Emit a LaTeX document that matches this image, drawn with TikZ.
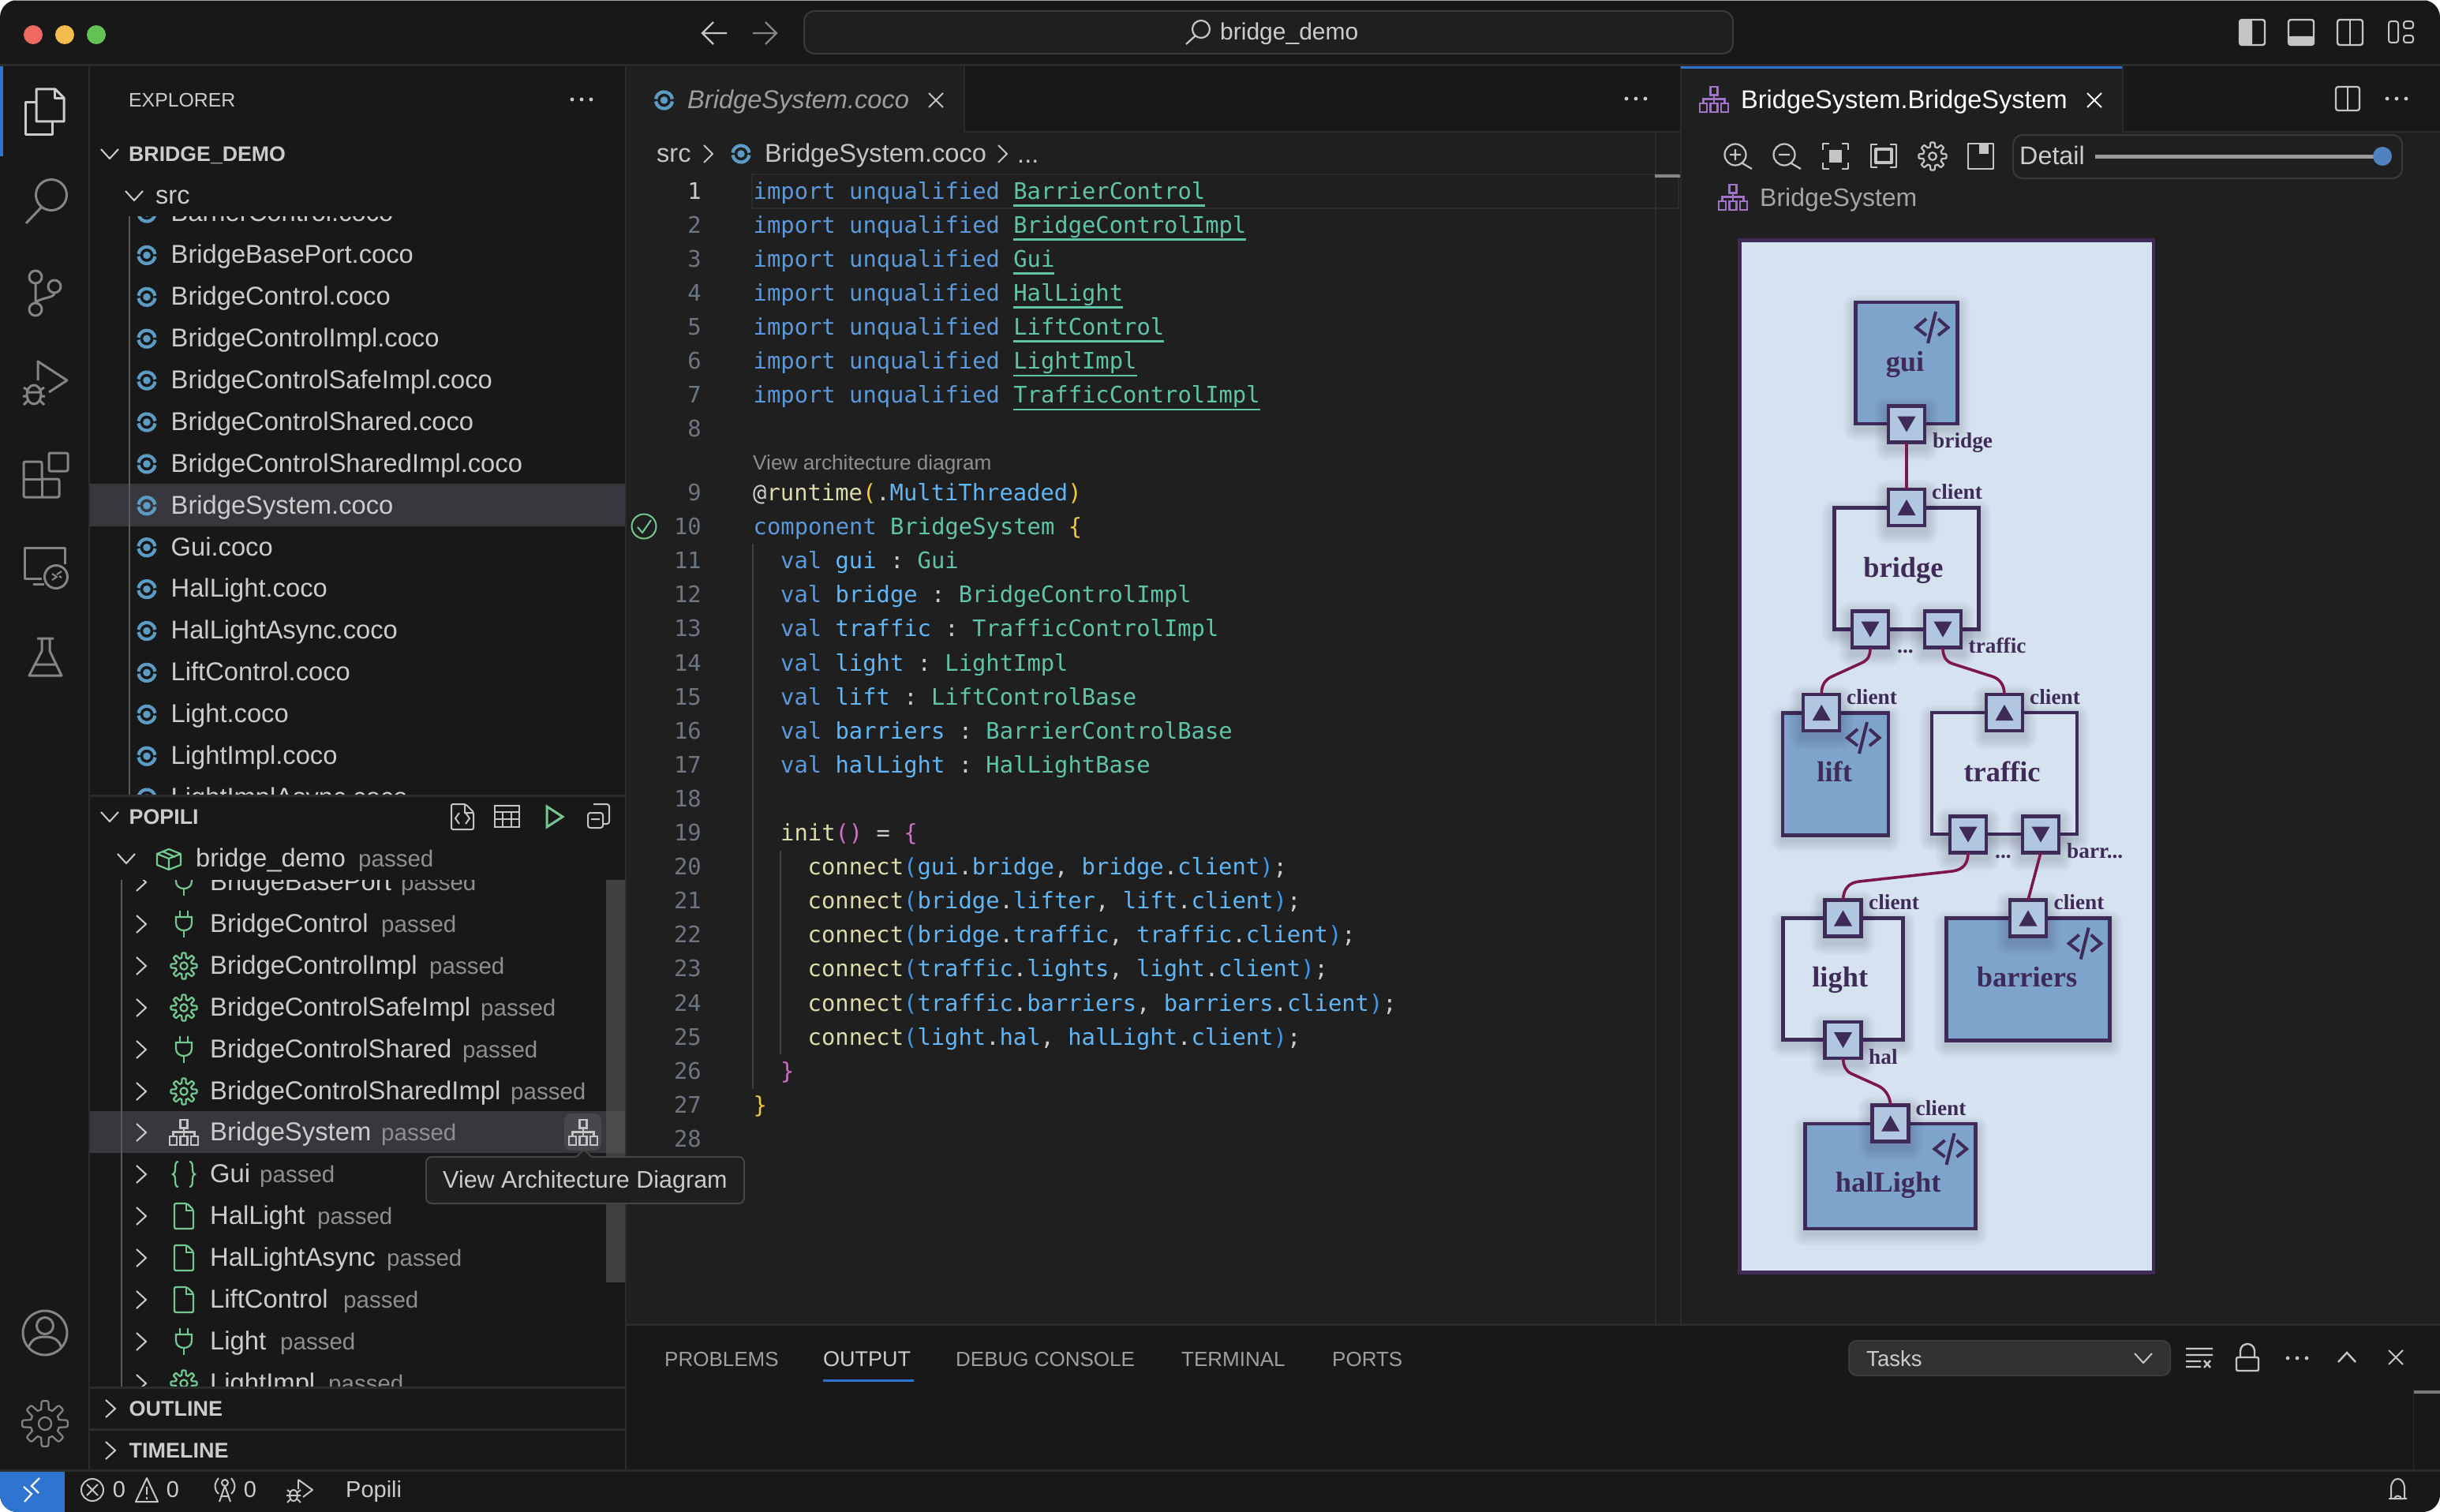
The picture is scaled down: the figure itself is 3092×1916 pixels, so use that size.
\documentclass[tikz,border=0pt]{standalone}
\usepackage{fontspec}
\setmainfont{Liberation Sans}
\newfontfamily\mono{DejaVu Sans Mono}
\newfontfamily\ser{Liberation Serif}
\usetikzlibrary{calc}
\definecolor{win}{HTML}{181818}
\definecolor{ed}{HTML}{1F1F1F}
\definecolor{bord}{HTML}{2B2B2B}
\definecolor{sel}{HTML}{37373D}
\definecolor{txt}{HTML}{CCCCCC}
\definecolor{dim}{HTML}{8F8F8F}
\definecolor{ico}{HTML}{858585}
\definecolor{lite}{HTML}{C5C5C5}
\definecolor{grn}{HTML}{73C991}
\definecolor{coco}{HTML}{5C9BC4}
\definecolor{purp}{HTML}{A074C4}
\definecolor{acc}{HTML}{2F74D0}
\definecolor{kw}{HTML}{5C99DA}
\definecolor{ty}{HTML}{5FC4A8}
\definecolor{idn}{HTML}{62B6F5}
\definecolor{fnc}{HTML}{DCDCAA}
\definecolor{gold}{HTML}{F5C842}
\definecolor{pink}{HTML}{CF6FC8}
\definecolor{pbl}{HTML}{3F97E8}
\definecolor{ln}{HTML}{6E7681}
\definecolor{dstroke}{HTML}{3E2B58}
\definecolor{dbg}{HTML}{D6E2EF}
\definecolor{dfill}{HTML}{7FA4CB}
\definecolor{dportc}{HTML}{B1C7E0}
\definecolor{wire}{HTML}{7C1650}
\definecolor{tlr}{HTML}{EE6A5F}
\definecolor{tly}{HTML}{F5BD4F}
\definecolor{tlg}{HTML}{61C454}
\definecolor{scb}{HTML}{404040}
\definecolor{boxb}{HTML}{3A3A3A}
\definecolor{csb}{HTML}{4E4E52}
\definecolor{cact}{HTML}{47474C}
\definecolor{ctip}{HTML}{454545}
\definecolor{ctab}{HTML}{9D9D9D}
\definecolor{cbrd}{HTML}{A5A5A5}
\definecolor{cslid}{HTML}{9A9A9A}
\definecolor{cknob}{HTML}{5082C0}
\definecolor{cguide}{HTML}{404040}
\definecolor{ctree}{HTML}{5A5A5A}
\definecolor{cpan}{HTML}{A0A0A0}
\definecolor{cdd}{HTML}{313131}
\definecolor{cddb}{HTML}{3C3C3C}
\definecolor{csm}{HTML}{7A7A7A}
\definecolor{cshad}{HTML}{1E1A3A}
\newcommand{\sz}[1]{\fontsize{#1}{#1}\selectfont\frenchspacing}
\newcount\tn
\newcommand{\tx}[6][mid west]{\global\advance\tn by 1\relax
  \node[anchor=#1,inner sep=0pt,text=#5,font=\sz{#4}] (t\the\tn) at (#2,{#3+1.5+0.19*#4}) {#6};}
\newcommand{\txb}[6][base west]{\global\advance\tn by 1\relax
  \node[anchor=#1,inner sep=0pt,text=#5,font=\sz{#4}] (t\the\tn) at (#2,{#3+1.5}) {#6};}
\newcommand{\K}[1]{\textcolor{kw}{#1}}
\newcommand{\Y}[1]{\textcolor{ty}{#1}}
\newcommand{\I}[1]{\textcolor{idn}{#1}}
\newcommand{\Fn}[1]{\textcolor{fnc}{#1}}
\newcommand{\Go}[1]{\textcolor{gold}{#1}}
\newcommand{\Pk}[1]{\textcolor{pink}{#1}}
\newcommand{\Bl}[1]{\textcolor{pbl}{#1}}
\newcommand{\Wh}[1]{\textcolor{txt}{#1}}
\newcommand{\Ul}[1]{\setbox0=\hbox{\textcolor{ty}{#1}}\leavevmode\rlap{\textcolor{ty}{\vrule width\wd0 height -7pt depth 9.5pt}}\box0}
\newcommand{\code}[3]{\txb[base west]{#1}{#2+8.5}{28.82}{txt}{\mono #3}}
\newcommand{\lnum}[3][ln]{\txb[base east]{889}{#3+8.5}{28.82}{#1}{\mono #2}}
\newcommand{\cconn}[2]{\code{1023.5}{#1}{\Fn{connect}\Bl{(}#2\Bl{)}\Wh{;}}}
% icons
\newcommand{\chD}[3][txt]{\draw[#1,line width=2pt] (#2-11,#3-6) -- (#2,#3+6) -- (#2+11,#3-6);}
\newcommand{\chR}[3][txt]{\draw[#1,line width=2pt] (#2-6,#3-11) -- (#2+6,#3) -- (#2-6,#3+11);}
\newcommand{\xic}[3][lite]{\draw[#1,line width=2pt] (#2-9,#3-9) -- (#2+9,#3+9) (#2-9,#3+9) -- (#2+9,#3-9);}
\newcommand{\threedots}[3][txt]{\fill[#1] (#2-12,#3) circle (2.4) (#2,#3) circle (2.4) (#2+12,#3) circle (2.4);}
\newcommand{\cocoic}[2]{\begin{scope}[shift={(#1,#2)}]
  \draw[coco,line width=4.2pt] (172:10.6) arc (172:8:10.6);
  \draw[coco,line width=4.2pt] (-8:10.6) arc (-8:-172:10.6);
  \fill[coco] (0,0) circle (4.8);
 \end{scope}}
\newcommand{\plugic}[2]{\begin{scope}[shift={(#1,#2)},color=grn,line width=2.2pt]
  \draw (-5,-17) -- (-5,-9) (5,-17) -- (5,-9) (0,8) -- (0,17);
  \draw (-10,-9) -- (10,-9) -- (10,-1) .. controls (10,5) and (5,8) .. (0,8) .. controls (-5,8) and (-10,5) .. (-10,-1) -- cycle;
 \end{scope}}
\newcommand{\gearic}[4]{\begin{scope}[shift={(#1,#2)},color=#3,line width=2.2pt,scale=#4]
  \draw[line join=round] plot[domain=0:360,samples=121] ({(13.5+3*max(-1,min(1,2.5*cos(8*\x))))*cos(\x)},{(13.5+3*max(-1,min(1,2.5*cos(8*\x))))*sin(\x)}) -- cycle;
  \draw (0,0) circle (4.6);
 \end{scope}}
\newcommand{\fileic}[2]{\begin{scope}[shift={(#1,#2)},color=grn,line width=2.2pt]
  \draw[rounded corners=2pt] (-12,-16) -- (4,-16) -- (12,-8) -- (12,16) -- (-12,16) -- cycle;
  \draw (3,-16) -- (3,-7) -- (12,-7);
 \end{scope}}
\newcommand{\hier}[3]{\begin{scope}[shift={(#1,#2)},color=#3,line width=2.2pt]
  \draw (-4.5,-16) rectangle (4.5,-5.5);
  \draw (0,-5.5) -- (0,5) (-13.5,5) -- (-13.5,-0.5) -- (13.5,-0.5) -- (13.5,5);
  \draw (-18,5) rectangle (-9,16) (-4.5,5) rectangle (4.5,16) (9,5) rectangle (18,16);
 \end{scope}}
% tree row
\newcommand{\row}[3]{\chR[txt]{179}{#1}\tx{266}{#1}{32.8}{txt}{#2}\tx{#3}{#1+1}{29.5}{dim}{passed}}
\newcommand{\file}[2]{\cocoic{186}{#1}\tx{216.5}{#1}{32.7}{txt}{#2}}
% diagram
\tikzset{
 dbox/.style={draw=dstroke,line width=4.5pt,inner sep=0pt,outer sep=0pt},
 dport/.style={draw=dstroke,line width=4.5pt,fill=dportc,minimum size=46pt,inner sep=0pt,outer sep=0pt},
 dwire/.style={draw=wire,line width=3.6pt},
 dname/.style={text=dstroke,anchor=base,inner sep=0pt,font=\ser\bfseries\sz{36.4}},
 dlab/.style={text=dstroke,anchor=base west,inner sep=0pt,font=\ser\bfseries\sz{27.3}},
}
\newcommand{\shadowat}[4]{\foreach \r in {2,4,...,16}{\fill[cshad,opacity=.02,rounded corners=\r pt] ({#1-#3/2-\r},{#2-#4/2-\r+6}) rectangle ({#1+#3/2+\r},{#2+#4/2+\r+6});}}
\newcommand{\dnode}[6]{\shadowat{#2}{#3}{#4}{#5}\node[dbox,fill=#6,minimum width=#4pt,minimum height=#5pt] (#1) at (#2,#3) {};}
\newcommand{\pnode}[3]{\shadowat{#2}{#3}{50}{50}\node[dport] (#1) at (#2,#3) {};}
\newcommand{\triD}[1]{\fill[dstroke] ([shift={(-11.5,-10)}]#1.center) -- ([shift={(11.5,-10)}]#1.center) -- ([shift={(0,10)}]#1.center) -- cycle;}
\newcommand{\triU}[1]{\fill[dstroke] ([shift={(-11.5,10)}]#1.center) -- ([shift={(11.5,10)}]#1.center) -- ([shift={(0,-10)}]#1.center) -- cycle;}
\newcommand{\codeic}[2]{\begin{scope}[shift={(#1,#2)},color=dstroke,line width=4pt]
  \draw (-7,-11) -- (-20,0) -- (-7,10) (8,-11) -- (20.5,0) -- (8,10) (5,-20) -- (-5,20);
 \end{scope}}
\begin{document}
\begin{tikzpicture}[x=1pt,y=-1pt]
\useasboundingbox (0,0) rectangle (3092,1916);
\fill[white] (0,0) rectangle (3092,1916);
\begin{scope}
\clip[rounded corners=22pt] (0,0) rectangle (3092,1916);
\fill[win] (0,0) rectangle (3092,1916);
\fill[gray!70] (0,0) rectangle (3092,1.5);
% ---- main panes
\fill[ed] (793,84) rectangle (3092,1679);
\fill[win] (793,84) rectangle (3092,167);
\fill[ed] (793,84) rectangle (1221,167);
\fill[ed] (2130,84) rectangle (2689,167);
\fill[win] (793,1679) rectangle (3092,1863);
% current line
\draw[bord,line width=2pt] (953,221) rectangle (2127,264);
\fill[bord] (2097,167) rectangle (2099,1679);
\fill[ico] (2097,221) rectangle (2130,225);
% borders
\fill[bord] (0,81) rectangle (3092,84);
\fill[bord] (112,84) rectangle (114,1863);
\fill[bord] (792,84) rectangle (794,1863);
\fill[bord] (1221,84) rectangle (1223,167);
\fill[bord] (2689,84) rectangle (2691,167);
\fill[bord] (1221,166) rectangle (2130,168);
\fill[bord] (2689,166) rectangle (3092,168);
\fill[bord] (2129,84) rectangle (2131,1679);
\fill[bord] (793,1677) rectangle (3092,1680);
\fill[bord] (0,1862) rectangle (3092,1865);
\fill[acc] (2130,84) rectangle (2689,87);
\fill[acc] (0,84) rectangle (4,198);
% ---- title bar
\fill[tlr] (42,44) circle (12);
\fill[tly] (82,44) circle (12);
\fill[tlg] (122,44) circle (12);
\draw[lite,line width=2.2pt] (921,42) -- (890,42) (904,28) -- (890,42) -- (904,56);
\draw[ico,line width=2.2pt] (954,42) -- (984,42) (970,28) -- (984,42) -- (970,56);
\draw[boxb,fill=ed,line width=2pt,rounded corners=13pt] (1019,14) rectangle (2196,68);
\draw[lite,line width=2.2pt] (1522,37) circle (11) (1514,46) -- (1503,56);
\tx{1546}{41}{30}{txt}{bridge\_demo}
\begin{scope}[color=lite,line width=2.4pt]
 \draw[rounded corners=3pt] (2838,25) rectangle (2870,57);
 \fill[rounded corners=3pt] (2838,25) rectangle (2854,57); \fill (2848,25) rectangle (2854,57);
 \draw[rounded corners=3pt] (2900,25) rectangle (2932,57);
 \fill[rounded corners=3pt] (2900,46) rectangle (2932,57); \fill (2900,46) rectangle (2932,50);
 \draw[rounded corners=3pt] (2962,25) rectangle (2994,57); \draw (2978,25) -- (2978,57);
 \draw[rounded corners=3pt,line width=2pt] (3027,27) rectangle (3039,54) (3046,27) rectangle (3058,36) (3046,45) rectangle (3058,54);
\end{scope}
% ---- activity bar
\begin{scope}[color=txt,line width=3pt,line join=round]
 \draw (46,113) -- (70,113) -- (81,124) -- (81,154) -- (46,154) -- cycle;
 \draw (69,113) -- (69,125) -- (81,125);
 \draw (46,130) -- (32,130) -- (32,170) -- (66,170) -- (66,154);
\end{scope}
\begin{scope}[color=ico,line width=3pt,line join=round]
 \draw (65,247) circle (19.5) (52,263) -- (33,283);
 \draw (45,351) circle (8) (45,392) circle (8) (69,363) circle (8);
 \draw (45,359) -- (45,384) (69,371) .. controls (69,378) and (55,376) .. (45,383);
 \draw (48,482) -- (48,458) -- (85,482) -- (62,497);
 \draw (43,500) ellipse (9 and 12) (35,497) -- (52,497) (30,491) -- (36,495) (56,491) -- (50,495) (29,502) -- (34,502) (57,502) -- (52,502) (30,513) -- (36,507) (56,513) -- (50,507);
 \draw[rounded corners=2pt] (30,607) -- (30,630) -- (75,630) -- (75,607) -- (53,607) -- (53,585) -- (30,585) -- cycle;
 \draw (30,607) -- (53,607) -- (53,630);
 \draw[rounded corners=2pt] (62,574) rectangle (86,597);
 \draw (82,715) -- (82,694) -- (31,694) -- (31,733) -- (53,733) (42,740) -- (56,740);
 \draw (71,731) circle (14.5);
 \draw[line width=2.2pt] (66,727) -- (72,731) -- (66,735) (78,724) -- (72,728) (78,732) -- (75,730);
 \draw (47,809) -- (68,809) (53,809) -- (53,825) -- (37,856) -- (78,856) -- (63,825) -- (63,809) (44,842) -- (71,842);
 \draw (57,1689) circle (28) (57,1680) circle (10.5);
 \draw (36,1708) .. controls (40,1696) and (48,1694) .. (57,1694) .. controls (66,1694) and (74,1696) .. (78,1708);
\end{scope}
\gearic{57}{1804}{ico}{1.75}
% ---- explorer
\tx{163}{127}{24.8}{txt}{EXPLORER}
\threedots{737}{126}
\chD{139}{195}\tx{163}{195}{26.7}{txt}{\bfseries BRIDGE\_DEMO}
\chD{170}{248}\tx{197}{248}{32.5}{txt}{src}
\begin{scope}
 \clip (114,274) rectangle (792,1008);
 \fill[sel] (114,613) rectangle (792,667);
 \draw[ctree,line width=1.5pt] (164,274) -- (164,1008);
 \file{270}{BarrierControl.coco}
 \file{323.4}{BridgeBasePort.coco}
 \file{376.3}{BridgeControl.coco}
 \file{429.2}{BridgeControlImpl.coco}
 \file{482.1}{BridgeControlSafeImpl.coco}
 \file{535}{BridgeControlShared.coco}
 \file{587.9}{BridgeControlSharedImpl.coco}
 \file{640.8}{BridgeSystem.coco}
 \file{693.7}{Gui.coco}
 \file{746.6}{HalLight.coco}
 \file{799.5}{HalLightAsync.coco}
 \file{852.4}{LiftControl.coco}
 \file{905.3}{Light.coco}
 \file{958.2}{LightImpl.coco}
 \file{1011.1}{LightImplAsync.coco}
\end{scope}
\fill[bord] (114,1007) rectangle (792,1010);
% ---- popili
\chD{139}{1035}\tx{163.5}{1035}{26.8}{txt}{\bfseries POPILI}
\begin{scope}[color=lite,line width=2pt]
 \draw[rounded corners=2pt] (572,1019) -- (590,1019) -- (600,1029) -- (600,1051) -- (572,1051) -- cycle;
 \draw (589,1019) -- (589,1030) -- (600,1030) (582,1030) -- (577,1037) -- (582,1044) (590,1030) -- (595,1037) -- (590,1044);
 \draw (627,1021) rectangle (658,1048) (627,1029) -- (658,1029) (627,1038) -- (658,1038) (637,1029) -- (637,1048) (648,1029) -- (648,1048);
 \draw[grn,line width=3pt,line join=miter] (693,1022) -- (713,1035) -- (693,1048) -- cycle;
 \draw[rounded corners=3pt] (752,1019) -- (772,1019) -- (772,1044) -- (764,1044);
 \draw[rounded corners=3pt] (745,1030) rectangle (764,1049) (749,1038) -- (760,1038);
\end{scope}
\chD{160}{1088}
\begin{scope}[shift={(214,1088)},color=grn,line width=2.2pt,line join=round]
 \draw (0,-12) -- (15,-6) -- (15,8) -- (0,14) -- (-15,8) -- (-15,-6) -- cycle (-15,-6) -- (0,0) -- (15,-6) (0,0) -- (0,14) (-8,-9) -- (8,-2) ;
\end{scope}
\tx{248}{1088}{32.5}{txt}{bridge\_demo}\tx{454}{1089}{29.5}{dim}{passed}
\begin{scope}
 \clip (114,1115) rectangle (792,1758);
 \fill[sel] (114,1408) rectangle (792,1461);
 \fill[scb] (768,1115) rectangle (793,1625);
 \fill[csb,opacity=.8] (768,1408) rectangle (793,1461);
 \fill[cact,rounded corners=9pt] (715,1411) rectangle (762,1458);
 \draw[ctree,line width=1.5pt] (154,1115) -- (154,1758);
 \row{1118}{BridgeBasePort}{508}\plugic{233}{1118}
 \row{1171}{BridgeControl}{483}\plugic{233}{1171}
 \row{1224}{BridgeControlImpl}{544}\gearic{233}{1224}{grn}{1}
 \row{1277}{BridgeControlSafeImpl}{609}\gearic{233}{1277}{grn}{1}
 \row{1330}{BridgeControlShared}{586}\plugic{233}{1330}
 \row{1383}{BridgeControlSharedImpl}{647}\gearic{233}{1383}{grn}{1}
 \row{1435}{BridgeSystem}{483}\hier{233}{1435}{lite}
 \hier{739}{1435}{lite}
 \row{1488}{Gui}{329}
 \begin{scope}[color=grn,line width=2.2pt]
  \draw (226,1472) .. controls (219,1472) and (225,1486) .. (219,1488) .. controls (225,1490) and (219,1504) .. (226,1504);
  \draw (240,1472) .. controls (247,1472) and (241,1486) .. (247,1488) .. controls (241,1490) and (247,1504) .. (240,1504);
 \end{scope}
 \row{1541}{HalLight}{402}\fileic{233}{1541}
 \row{1594}{HalLightAsync}{490}\fileic{233}{1594}
 \row{1647}{LiftControl}{435}\fileic{233}{1647}
 \row{1700}{Light}{355}\plugic{233}{1700}
 \row{1753}{LightImpl}{416}\gearic{233}{1753}{grn}{1}
\end{scope}
\fill[bord] (114,1757) rectangle (792,1760);
\fill[bord] (114,1810) rectangle (792,1813);
\chR{140}{1785}\tx{163.5}{1785}{27}{txt}{\bfseries OUTLINE}
\chR{140}{1838}\tx{163.5}{1838}{27}{txt}{\bfseries TIMELINE}
% ---- tooltip
\draw[ctip,fill=ed,line width=2pt,rounded corners=7pt] (540,1466) rectangle (943,1525);
\draw[ctip,fill=ed,line width=2pt] (729,1467) -- (740,1457) -- (751,1467);
\fill[ed] (730,1466) rectangle (750,1469);
\tx{561}{1496}{30.5}{txt}{View Architecture Diagram}
% ---- editor tabs
\cocoic{841.5}{127}\tx{871}{127}{32.6}{ctab}{\itshape BridgeSystem.coco}\xic{1186}{127}
\threedots{2073}{125}
\tx{832}{195}{32.5}{lite}{src}
\draw[lite,line width=2pt] (892,184) -- (903,195) -- (892,206);
\cocoic{939}{195}
\tx{969}{195}{32.6}{lite}{BridgeSystem.coco}
\draw[lite,line width=2pt] (1265,184) -- (1276,195) -- (1265,206);
\txb{1289}{205}{32.5}{lite}{...}
% ---- code
\foreach \n/\y in {2/285.1,3/328.2,4/371.3,5/414.4,6/457.5,7/500.6,8/543.7,9/624.5,10/667.6,11/710.7,12/753.8,13/796.9,14/840,15/883.1,16/926.2,17/969.3,18/1012.4,19/1055.5,20/1098.6,21/1141.7,22/1184.8,23/1227.9,24/1271,25/1314.1,26/1357.2,27/1400.3,28/1443.4}{\lnum{\n}{\y}}
\lnum[txt]{1}{242}
\draw[cguide,line width=1.5pt] (954,689) -- (954,1380) (989,1078) -- (989,1336);
\code{954.5}{242}{\K{import unqualified} \Ul{BarrierControl}}
\code{954.5}{285.1}{\K{import unqualified} \Ul{BridgeControlImpl}}
\code{954.5}{328.2}{\K{import unqualified} \Ul{Gui}}
\code{954.5}{371.3}{\K{import unqualified} \Ul{HalLight}}
\code{954.5}{414.4}{\K{import unqualified} \Ul{LiftControl}}
\code{954.5}{457.5}{\K{import unqualified} \Ul{LightImpl}}
\code{954.5}{500.6}{\K{import unqualified} \Ul{TrafficControlImpl}}
\tx{954}{586}{26.2}{dim}{View architecture diagram}
\code{954}{624.5}{\Wh{@}\Fn{runtime}\Go{(}\Wh{.}\I{MultiThreaded}\Go{)}}
\code{954.5}{667.6}{\K{component} \Y{BridgeSystem} \Go{\{}}
\draw[grn,line width=2pt] (816,667) circle (15.5);
\draw[grn,line width=2pt] (808,668) -- (814,675) -- (825,659);
\code{989}{710.7}{\K{val} \I{gui} \Wh{:} \Y{Gui}}
\code{989}{753.8}{\K{val} \I{bridge} \Wh{:} \Y{BridgeControlImpl}}
\code{989}{796.9}{\K{val} \I{traffic} \Wh{:} \Y{TrafficControlImpl}}
\code{989}{840}{\K{val} \I{light} \Wh{:} \Y{LightImpl}}
\code{989}{883.1}{\K{val} \I{lift} \Wh{:} \Y{LiftControlBase}}
\code{989}{926.2}{\K{val} \I{barriers} \Wh{:} \Y{BarrierControlBase}}
\code{989}{969.3}{\K{val} \I{halLight} \Wh{:} \Y{HalLightBase}}
\code{989}{1055.5}{\Fn{init}\Pk{()} \Wh{=} \Pk{\{}}
\cconn{1098.6}{\I{gui}\Wh{.}\I{bridge}\Wh{,} \I{bridge}\Wh{.}\I{client}}
\cconn{1141.7}{\I{bridge}\Wh{.}\I{lifter}\Wh{,} \I{lift}\Wh{.}\I{client}}
\cconn{1184.8}{\I{bridge}\Wh{.}\I{traffic}\Wh{,} \I{traffic}\Wh{.}\I{client}}
\cconn{1227.9}{\I{traffic}\Wh{.}\I{lights}\Wh{,} \I{light}\Wh{.}\I{client}}
\cconn{1271}{\I{traffic}\Wh{.}\I{barriers}\Wh{,} \I{barriers}\Wh{.}\I{client}}
\cconn{1314.1}{\I{light}\Wh{.}\I{hal}\Wh{,} \I{halLight}\Wh{.}\I{client}}
\code{989}{1357.2}{\Pk{\}}}
\code{954.5}{1400.3}{\Go{\}}}
% ---- right tab
\hier{2172}{126}{purp}
\tx{2206}{127}{32.5}{white}{BridgeSystem.BridgeSystem}
\xic[white]{2654}{127}
\draw[lite,line width=2.2pt,rounded corners=3pt] (2960,110) rectangle (2990,140);
\draw[lite,line width=2.2pt] (2975,110) -- (2975,140);
\threedots{3037}{125}
\begin{scope}[color=lite,line width=2.2pt,line join=round]
 \draw (2199,196) circle (13.5) (2208,207) -- (2220,214) (2192,196) -- (2206,196) (2199,189) -- (2199,203);
 \draw (2261,196) circle (13.5) (2270,207) -- (2282,214) (2254,196) -- (2268,196);
 \draw (2310,190) -- (2310,182) -- (2318,182) (2342,190) -- (2342,182) -- (2334,182) (2310,206) -- (2310,214) -- (2318,214) (2342,206) -- (2342,214) -- (2334,214);
 \fill (2318,190) rectangle (2334,206);
 \draw (2379,183) -- (2371,183) -- (2371,212) -- (2379,212) (2395,183) -- (2403,183) -- (2403,212) -- (2395,212);
 \draw[line width=4pt] (2377,189) rectangle (2397,206);
 \begin{scope}[shift={(2449,198)},scale=1.1] 
  \draw[line join=round] plot[domain=0:360,samples=121] ({(13.5+2.5*max(-1,min(1,2.5*cos(8*\x))))*cos(\x)},{(13.5+2.5*max(-1,min(1,2.5*cos(8*\x))))*sin(\x)}) -- cycle;
  \draw (0,0) circle (4.4);
 \end{scope}
 \draw (2494,182) -- (2526,182) -- (2526,214) -- (2494,214) -- cycle;
 \fill (2508,182) rectangle (2520,195);
\end{scope}
\draw[boxb,line width=2pt,rounded corners=12pt] (2551,171) rectangle (3044,226);
\tx{2559}{198}{32.3}{txt}{Detail}
\fill[cslid] (2655,196) rectangle (3020,201);
\fill[cknob] (3019,198) circle (12);
\hier{2196}{250}{purp}
\tx{2230}{251}{32}{cbrd}{BridgeSystem}
% ---- diagram
\draw[dstroke,fill=dbg,line width=4.5pt] (2204.3,304.7) rectangle (2728.8,1612.3);
\dnode{gui}{2416}{460}{128.6}{154}{dfill}
\dnode{bridge}{2416}{720.5}{183}{154}{dbg}
\dnode{lift}{2326}{981}{133.7}{155}{dfill}
\dnode{traffic}{2540}{980}{183.7}{154}{dbg}
\dnode{light}{2335.5}{1240.7}{152.4}{154}{dbg}
\dnode{barriers}{2570}{1241}{207}{155}{dfill}
\dnode{halLight}{2395.4}{1490.5}{216}{133}{dfill}
\pnode{guiBridge}{2416}{537.5}
\pnode{bridgeClient}{2416}{643}
\pnode{bridgeLifter}{2370}{797.6}
\pnode{bridgeTraffic}{2462}{797.6}
\pnode{liftClient}{2308.2}{903}
\pnode{trafficClient}{2540}{903}
\pnode{trafficLights}{2494}{1057.5}
\pnode{trafficBarriers}{2586}{1057.5}
\pnode{lightClient}{2335.5}{1163.5}
\pnode{barriersClient}{2570}{1163.5}
\pnode{lightHal}{2335.5}{1318}
\pnode{halLightClient}{2395.6}{1423.5}
\draw[dwire] (guiBridge.south) -- (bridgeClient.north);
\draw[dwire] (bridgeLifter.south) .. controls (2370,835) and (2364,838) .. (2357,841) -- (2322,857) .. controls (2313,861) and (2308,868) .. (liftClient.north);
\draw[dwire] (bridgeTraffic.south) .. controls (2462,832) and (2466,838) .. (2474,841) -- (2524,857) .. controls (2534,860) and (2540,868) .. (trafficClient.north);
\draw[dwire] (trafficLights.south) .. controls (2494,1094) and (2488,1102) .. (2474,1104) -- (2356,1117) .. controls (2343,1118.5) and (2336,1126) .. (lightClient.north);
\draw[dwire] (trafficBarriers.south) -- (barriersClient.north);
\draw[dwire] (lightHal.south) .. controls (2336,1351) and (2339,1357) .. (2346,1360.5) -- (2378,1375) .. controls (2388,1379) and (2395,1388) .. (halLightClient.north);
\triD{guiBridge}\triU{bridgeClient}\triD{bridgeLifter}\triD{bridgeTraffic}
\triU{liftClient}\triU{trafficClient}\triD{trafficLights}\triD{trafficBarriers}
\triU{lightClient}\triU{barriersClient}\triD{lightHal}\triU{halLightClient}
\codeic{2448}{415}\codeic{2361}{935}\codeic{2641.7}{1195.6}\codeic{2471.5}{1456}
\node[dname] (guiN) at (2414,470) {gui};
\node[dname] (bridgeN) at (2412,731) {bridge};
\node[dname] (liftN) at (2324.6,990) {lift};
\node[dname] (trafficN) at (2537,990) {traffic};
\node[dname] (lightN) at (2331.7,1250) {light};
\node[dname] (barriersN) at (2568.5,1250) {barriers};
\node[dname] (halLightN) at (2392.7,1510) {halLight};
\node[dlab] (l1) at (2449,567.5) {bridge};
\node[dlab] (l2) at (2448,632) {client};
\node[dlab] (l3) at (2404,827) {...};
\node[dlab] (l4) at (2494.5,827) {traffic};
\node[dlab] (l5) at (2340,892) {client};
\node[dlab] (l6) at (2572,892) {client};
\node[dlab] (l7) at (2528,1087.5) {...};
\node[dlab] (l8) at (2619,1087.5) {barr...};
\node[dlab] (l9) at (2368,1152) {client};
\node[dlab] (l10) at (2602.5,1152) {client};
\node[dlab] (l11) at (2368,1348) {hal};
\node[dlab] (l12) at (2427.5,1413) {client};
% ---- panel
\tx{842}{1722}{26}{cpan}{PROBLEMS}
\tx{1043}{1722}{27}{txt}{OUTPUT}
\fill[acc] (1043,1748) rectangle (1158,1751);
\tx{1211}{1722}{26}{cpan}{DEBUG CONSOLE}
\tx{1497}{1722}{26}{cpan}{TERMINAL}
\tx{1688}{1722}{26}{cpan}{PORTS}
\draw[cddb,fill=cdd,line width=2pt,rounded corners=10pt] (2343,1699) rectangle (2750,1743);
\tx{2365}{1722}{27.5}{txt}{Tasks}
\chD[lite]{2716}{1721}
\begin{scope}[color=lite,line width=2.4pt]
 \draw (2770,1709) -- (2804,1709) (2770,1717) -- (2804,1717) (2770,1725) -- (2789,1725) (2770,1732) -- (2789,1732) (2793,1724) -- (2801,1733) (2801,1724) -- (2793,1733);
 \draw[rounded corners=2pt] (2834,1720) rectangle (2862,1737);
 \draw (2839,1720) -- (2839,1712) arc (180:360:9) -- (2857,1720);
 \threedots[lite]{2911}{1721}
 \draw (2963,1726) -- (2974,1714) -- (2985,1726);
\end{scope}
\xic{3036}{1720}
\fill[csm] (3059,1762) rectangle (3092,1766);
\fill[bord] (3058,1762) rectangle (3059,1863);
% ---- status bar
\fill[acc] (0,1865) rectangle (82,1916);
\draw[white,line width=2.2pt] (30,1884) -- (40,1893) -- (31,1903) (50,1873) -- (40,1883) -- (49,1892);
\begin{scope}[color=lite,line width=2pt,line join=round]
 \draw (117,1888) circle (14) (110,1881) -- (124,1895) (110,1895) -- (124,1881);
 \draw (186,1873) -- (200,1903) -- (172,1903) -- cycle (186,1884) -- (186,1894) (186,1897) -- (186,1900);
 \draw (285,1879) circle (4) (285,1883) -- (278,1903) (285,1883) -- (292,1903) (280,1896) -- (290,1896);
 \draw (277,1873) .. controls (271,1881) and (271,1887) .. (277,1893) (293,1873) .. controls (299,1881) and (299,1887) .. (293,1893);
 \draw (378,1875) -- (396,1888) -- (384,1897) (378,1875) -- (378,1887);
 \draw (372,1895) ellipse (5 and 7) (363,1895) -- (381,1895) (364,1888) -- (368,1891) (381,1888) -- (377,1891) (364,1904) -- (368,1900) (381,1904) -- (377,1900);
\end{scope}
\tx[mid]{151}{1888}{29}{txt}{0}
\tx[mid]{219}{1888}{29}{txt}{0}
\tx[mid]{317}{1888}{29}{txt}{0}
\tx{438}{1888}{29}{txt}{Popili}
\begin{scope}[color=lite,line width=2pt]
 \draw (3027,1899) -- (3050,1899) (3030,1899) -- (3030,1886) .. controls (3030,1870) and (3047,1870) .. (3047,1886) -- (3047,1899);
 \draw (3034,1900) arc (180:360:4.5);
\end{scope}
\end{scope}
\end{tikzpicture}
\end{document}
